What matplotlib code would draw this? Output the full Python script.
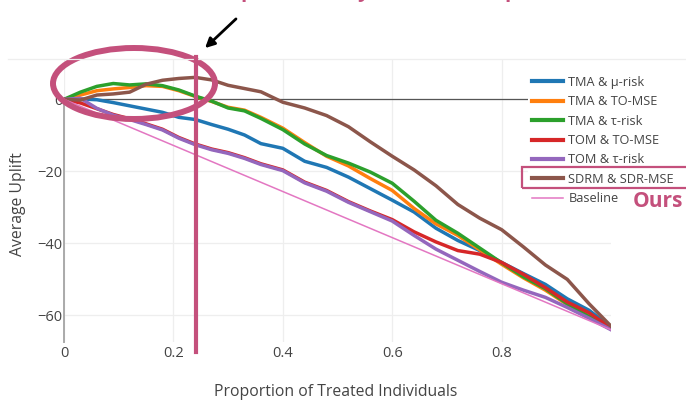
import matplotlib
matplotlib.use("Agg")
import matplotlib.pyplot as plt
from matplotlib.patches import Ellipse, Rectangle
from matplotlib.lines import Line2D

plt.rcParams['font.family'] = ['Open Sans', 'DejaVu Sans']

# proportion of treated individuals (shared grid)
prop = [0, .03, .06, .09, .12, .15, .18, .21, .24, .27, .30, .33, .36, .40, .44,
        .48, .52, .56, .60, .64, .68, .72, .76, .80, .84, .88, .92, .96, 1.0]

tma_mu = [0, 0.1, -0.1, -0.9, -1.8, -2.7, -3.6, -5.0, -5.6, -7.0, -8.3, -9.9, -12.3, -13.6, -17.2,
          -18.9, -21.6, -24.8, -28.0, -31.3, -35.8, -39.2, -42.0, -45.3, -48.4, -51.4, -55.4, -58.6, -63.3]
tma_tomse = [0, 1.2, 2.4, 2.9, 3.3, 3.8, 3.6, 2.4, 0.8, -0.6, -2.2, -3.0, -5.0, -8.0, -12.0,
             -15.8, -18.5, -22.0, -25.3, -30.3, -34.6, -37.8, -41.8, -45.8, -49.6, -53.0, -57.0, -60.5, -63.2]
tma_tau = [0, 2.0, 3.6, 4.4, 4.0, 4.3, 3.8, 2.6, 0.9, -0.5, -2.4, -3.2, -5.3, -8.4, -12.4,
           -15.6, -17.7, -20.2, -23.3, -28.3, -33.6, -37.2, -41.3, -45.4, -49.3, -52.6, -56.8, -60.3, -63.0]
tom_tomse = [0, -1.0, -2.6, -4.2, -5.4, -6.8, -8.3, -10.6, -12.4, -13.8, -14.8, -16.2, -17.9, -19.6, -23.0,
             -25.3, -28.4, -31.0, -33.4, -36.8, -39.6, -42.0, -43.0, -45.3, -48.6, -52.3, -56.3, -59.3, -63.5]
tom_tau = [0, 0.3, -2.5, -4.4, -5.6, -7.0, -8.5, -10.8, -12.6, -14.0, -15.0, -16.4, -18.1, -19.8, -23.2,
           -25.5, -28.6, -31.2, -33.8, -37.8, -41.6, -44.7, -47.8, -50.8, -53.0, -55.0, -57.8, -60.8, -64.0]
sdrm = [0, -0.2, 1.2, 1.5, 2.0, 4.2, 5.3, 5.8, 6.1, 5.4, 3.9, 3.0, 2.1, -0.8, -2.4,
        -4.5, -7.6, -11.8, -15.8, -19.6, -24.0, -29.2, -33.0, -36.2, -41.0, -46.0, -50.0, -56.8, -63.0]
base_x = [0, 1.0]
base_y = [0, -64]

series = [
    ('TMA & μ-risk', tma_mu, '#1f77b4'),
    ('TMA & TO-MSE', tma_tomse, '#ff7f0e'),
    ('TMA & τ-risk', tma_tau, '#2ca02c'),
    ('TOM & TO-MSE', tom_tomse, '#d62728'),
    ('TOM & τ-risk', tom_tau, '#9467bd'),
    ('SDRM & SDR-MSE', sdrm, '#8c564b'),
]

pink = '#c4507c'
txt = '#444444'

fig = plt.figure(figsize=(6.86, 4.01), dpi=100)
ax = fig.add_axes([0.0933, 0.1471, 0.7974, 0.7057])

for name, vals, col in series:
    ax.plot(prop, vals, color=col, lw=2.5, label=name, solid_joinstyle='round')
ax.plot(base_x, base_y, color='#e377c2', lw=1.1, label='Baseline')

ax.axhline(0, color='#555555', lw=0.9, zorder=1)
ax.set_xlim(0, 1.0)
ax.set_ylim(-67.4, 11.2)
ax.set_xticks([0, 0.2, 0.4, 0.6, 0.8])
ax.set_xticklabels(['0', '0.2', '0.4', '0.6', '0.8'])
ax.set_yticks([0, -20, -40, -60])
ax.grid(True, color='#eeeeee', lw=0.9)
ax.set_axisbelow(True)
for s in ['top', 'right', 'bottom']:
    ax.spines[s].set_visible(False)
ax.spines['left'].set_color('#aaaaaa')
ax.spines['left'].set_linewidth(1.4)
ax.spines['left'].set_bounds(-67.4, 0)
ax.tick_params(length=0, labelsize=10.5, colors=txt)
ax.tick_params(axis='y', pad=1)
ax.tick_params(axis='x', pad=3)

fig.text(336 / 686, 1 - 392 / 401, 'Proportion of Treated Individuals', ha='center', va='center',
         fontsize=11.3, color=txt)
fig.text(18 / 686, 1 - 204 / 401, 'Average Uplift', ha='center', va='center', rotation=90,
         fontsize=11.3, color=txt)

leg = ax.legend(loc='upper left', bbox_to_anchor=(528 / 686, 1 - 72 / 401),
                bbox_transform=fig.transFigure, fontsize=9.2, frameon=True, facecolor='white',
                edgecolor='none', framealpha=1, handlelength=2.45, handletextpad=0.4,
                labelspacing=0.5, borderpad=0.3, borderaxespad=0)
for t in leg.get_texts():
    t.set_color(txt)
for h in leg.get_lines()[:-1]:
    h.set_linewidth(3)

# faint top rule of the cropped figure
fig.add_artist(Line2D([0.012, 1.0], [1 - 59 / 401, 1 - 59 / 401], color='#eeeeee', lw=0.9,
                      transform=fig.transFigure))

# annotations
fig.add_artist(Ellipse((134 / 686, 1 - 83.5 / 401), 162 / 686, 71 / 401, fill=False,
                       edgecolor=pink, lw=4.3, transform=fig.transFigure))
fig.add_artist(Line2D([196 / 686, 196 / 686], [1 - 57 / 401, 1 - 352 / 401], color=pink, lw=3,
                      transform=fig.transFigure))
fig.add_artist(Rectangle((522 / 686, 1 - 188 / 401), 170 / 686, 21 / 401, fill=False,
                         edgecolor=pink, lw=1.6, transform=fig.transFigure))
fig.text(633 / 686, 1 - 207 / 401, 'Ours', color=pink, fontsize=15, fontweight='bold',
         ha='left', va='baseline')
ax.annotate('', xy=(203 / 686, 1 - 50 / 401), xytext=(238 / 686, 1 - 17 / 401),
            xycoords='figure fraction', textcoords='figure fraction',
            arrowprops=dict(arrowstyle='-|>', color='black', lw=2, mutation_scale=14))

# descenders of the cut-off heading
for xp, ch in [(240, 'p'), (358, 'y'), (504, 'p')]:
    fig.text(xp / 686, 1.0 + 3 / 401, ch, color=pink, fontsize=15, fontweight='bold',
             ha='left', va='baseline')

fig.savefig('out.png', dpi=100)
